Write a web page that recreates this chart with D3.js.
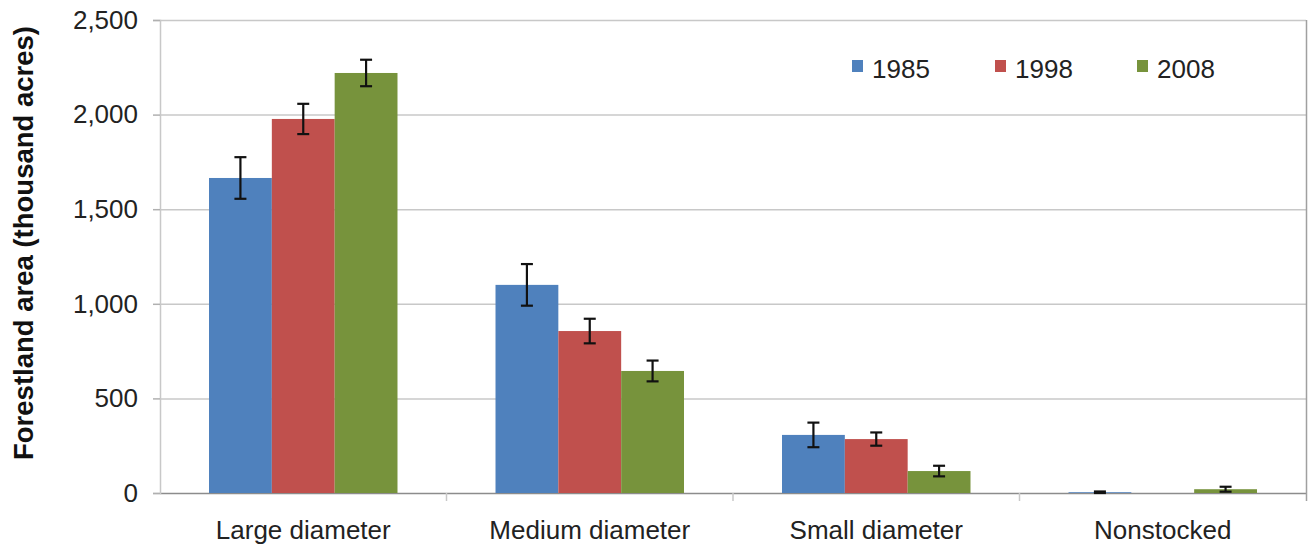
<!DOCTYPE html>
<html>
<head>
<meta charset="utf-8">
<script src="https://cdn.jsdelivr.net/npm/d3@7"></script>
<style>
  html, body { margin: 0; padding: 0; background: #fff; }
  svg { display: block; font-family: "Liberation Sans", Arial, sans-serif; }
</style>
</head>
<body>
<svg id="chart" width="1310" height="547"></svg>
<script>
const categories = ["Large diameter", "Medium diameter", "Small diameter", "Nonstocked"];
const years = ["1985", "1998", "2008"];
const values1985 = [1665, 1100, 307, 4];
const values1998 = [1977, 856, 285, 0];
const values2008 = [2220, 645, 116, 20];
const err1985 = [110, 110, 65, 4];
const err1998 = [80, 65, 35, 0];
const err2008 = [70, 55, 28, 13];
const yTicks = [0, 500, 1000, 1500, 2000, 2500];
const colors = ["#4F81BD", "#C0504D", "#77933C"];

const series = [
  { year: years[0], values: values1985, err: err1985, color: colors[0] },
  { year: years[1], values: values1998, err: err1998, color: colors[1] },
  { year: years[2], values: values2008, err: err2008, color: colors[2] }
];

const svg = d3.select("#chart");
const margin = { left: 160, right: 1306, top: 20, bottom: 493 };

const x0 = d3.scaleBand().domain(categories).range([margin.left, margin.right]).padding(0);
const x1 = d3.scaleBand().domain(years).range([0, x0.bandwidth()]).paddingInner(0).paddingOuter(0.78);
const y = d3.scaleLinear().domain([0, 2500]).range([margin.bottom, margin.top]);

// gridlines
svg.append("g").selectAll("line").data(yTicks).join("line")
  .attr("x1", margin.left).attr("x2", margin.right)
  .attr("y1", d => y(d) + 0.5).attr("y2", d => y(d) + 0.5)
  .attr("stroke", d => d === 0 ? "#8c8c8c" : "#c8c8c8").attr("stroke-width", 1.5);

// right border
svg.append("line")
  .attr("x1", margin.right + 0.5).attr("x2", margin.right + 0.5)
  .attr("y1", margin.top).attr("y2", margin.bottom + 8)
  .attr("stroke", "#a0a0a0").attr("stroke-width", 1.5);

// y axis
const yAxis = d3.axisLeft(y).tickValues(yTicks).tickSize(7).tickPadding(15)
  .tickFormat(d3.format(","));
const ga = svg.append("g").attr("transform", `translate(${margin.left},0)`).call(yAxis);
ga.select(".domain").attr("stroke", "#c8c8c8").attr("stroke-width", 1.5);
ga.selectAll(".tick line").attr("stroke", "#b0b0b0").attr("stroke-width", 1.5);
ga.selectAll("text").attr("font-size", 26).attr("fill", "#222")
  .attr("font-family", "Liberation Sans, Arial, sans-serif");

// x axis
const xAxis = d3.axisBottom(x0).tickSize(0).tickPadding(28);
const gx = svg.append("g").attr("transform", `translate(0,${margin.bottom})`).call(xAxis);
gx.select(".domain").remove();
gx.selectAll("text").attr("font-size", 26).attr("fill", "#222")
  .attr("font-family", "Liberation Sans, Arial, sans-serif");
// category separator ticks
const seps = categories.map(c => x0(c)).slice(1);
svg.append("g").selectAll("line").data(seps).join("line")
  .attr("x1", d => d).attr("x2", d => d)
  .attr("y1", margin.bottom).attr("y2", margin.bottom + 8)
  .attr("stroke", "#c8c8c8").attr("stroke-width", 1.5);

// bars
const groups = svg.append("g").selectAll("g").data(series).join("g").attr("fill", d => d.color);
groups.selectAll("rect").data(s => categories.map((c, i) => ({ c, v: s.values[i], e: s.err[i], year: s.year })))
  .join("rect")
  .attr("x", d => x0(d.c) + x1(d.year))
  .attr("width", x1.bandwidth())
  .attr("y", d => y(d.v))
  .attr("height", d => y(0) - y(d.v));

// error bars
const eb = svg.append("g").attr("stroke", "#111").attr("stroke-width", 2.2);
series.forEach(s => {
  categories.forEach((c, i) => {
    if (s.values[i] <= 0 && s.err[i] <= 0) return;
    const cx = x0(c) + x1(s.year) + x1.bandwidth() / 2;
    const hi = y(s.values[i] + s.err[i]);
    const lo = y(Math.max(0, s.values[i] - s.err[i]));
    eb.append("line").attr("x1", cx).attr("x2", cx).attr("y1", hi).attr("y2", lo);
    eb.append("line").attr("x1", cx - 6).attr("x2", cx + 6).attr("y1", hi).attr("y2", hi);
    eb.append("line").attr("x1", cx - 6).attr("x2", cx + 6).attr("y1", lo).attr("y2", lo);
  });
});

// y axis title
svg.append("text")
  .attr("transform", "translate(33,243) rotate(-90)")
  .attr("text-anchor", "middle")
  .attr("font-size", 27.5).attr("font-weight", "bold").attr("fill", "#111")
  .text("Forestland area (thousand acres)");

// legend
const legendX = [852, 995, 1137];
const lg = svg.append("g").selectAll("g").data(series).join("g")
  .attr("transform", (d, i) => `translate(${legendX[i]},60)`);
lg.append("rect").attr("width", 11).attr("height", 12).attr("y", 0).attr("fill", d => d.color);
lg.append("text").attr("x", 20).attr("y", 18).attr("font-size", 26).attr("fill", "#222")
  .text(d => d.year);
</script>
</body>
</html>
